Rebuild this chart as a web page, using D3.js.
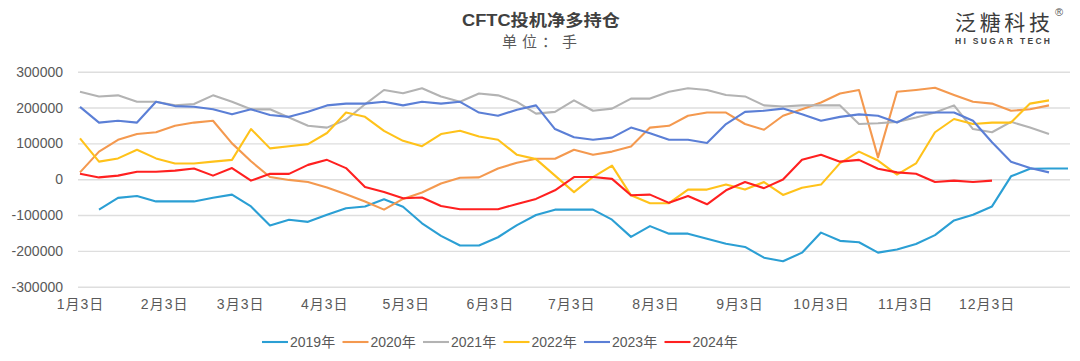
<!DOCTYPE html>
<html>
<head>
<meta charset="utf-8">
<script src="https://cdn.jsdelivr.net/npm/d3@7"></script>
<style>
  html, body { margin: 0; padding: 0; background: #ffffff; }
  svg { display: block; }
  text { font-family: "Liberation Sans", "Noto Sans CJK SC", sans-serif; }
</style>
</head>
<body>
<div id="chart"></div>
<script>
// ---------------- data ----------------
const titleText = "CFTC投机净多持仓";
const subtitleText = "单位：手";
const seriesNames = ["2019年", "2020年", "2021年", "2022年", "2023年", "2024年"];
const seriesColors = ["#2b9fd4", "#f4994f", "#b3b3b3", "#ffc21a", "#5b7fd6", "#ff2020"];
const firstWeek = "2019-01-03"; // shared calendar (weekly points)
const yTicks = [-300000, -200000, -100000, 0, 100000, 200000, 300000];
const xTickDates = ["2019-01-03", "2019-02-03", "2019-03-03", "2019-04-03", "2019-05-03", "2019-06-03",
                    "2019-07-03", "2019-08-03", "2019-09-03", "2019-10-03", "2019-11-03", "2019-12-03"];
const xTickLabels = ["1月3日", "2月3日", "3月3日", "4月3日", "5月3日", "6月3日",
                     "7月3日", "8月3日", "9月3日", "10月3日", "11月3日", "12月3日"];

const y2019 = [null, -85000, -52000, -47000, -62000, -62000, -62000, -52000, -43000, -76000,
  -129000, -113000, -119000, -99000, -81000, -76000, -56000, -77000, -123000, -158000,
  -185000, -185000, -162000, -128000, -100000, -85000, -85000, -85000, -113000, -161000,
  -131000, -152000, -152000, -166000, -180000, -189000, -219000, -229000, -205000, -149000,
  -172000, -176000, -205000, -196000, -181000, -156000, -115000, -99000, -76000, 8000,
  29000, 30000, 30000];
const y2020 = [19000, 77000, 110000, 126000, 131000, 149000, 158000, 163000, 100000, 50000,
  6000, -2000, -8000, -23000, -42000, -62000, -85000, -55000, -37000, -12000,
  4000, 5000, 30000, 46000, 57000, 57000, 82000, 68000, 77000, 91000,
  144000, 149000, 177000, 186000, 186000, 154000, 138000, 177000, 195000, 214000,
  239000, 249000, 61000, 244000, 249000, 255000, 235000, 216000, 211000, 191000,
  195000, 206000];
const y2021 = [244000, 231000, 234000, 216000, 216000, 206000, 210000, 234000, 216000, 195000,
  195000, 172000, 149000, 144000, 166000, 209000, 249000, 240000, 254000, 231000,
  216000, 239000, 234000, 216000, 183000, 188000, 220000, 191000, 197000, 225000,
  225000, 244000, 254000, 249000, 235000, 231000, 206000, 203000, 206000, 206000,
  206000, 154000, 156000, 160000, 172000, 186000, 206000, 140000, 131000, 160000,
  144000, 126000];
const y2022 = [114000, 49000, 58000, 82000, 58000, 44000, 44000, 49000, 54000, 140000,
  86000, 92000, 98000, 129000, 186000, 174000, 135000, 107000, 92000, 126000,
  135000, 119000, 110000, 68000, 56000, 10000, -36000, 6000, 38000, -45000,
  -67000, -67000, -29000, -29000, -15000, -29000, -8000, -44000, -24000, -15000,
  45000, 77000, 52000, 13000, 44000, 131000, 168000, 154000, 158000, 158000,
  211000, 220000];
const y2023 = [202000, 158000, 163000, 158000, 216000, 204000, 202000, 195000, 181000, 195000,
  179000, 174000, 188000, 206000, 211000, 211000, 216000, 206000, 216000, 211000,
  216000, 186000, 177000, 194000, 206000, 140000, 117000, 110000, 116000, 144000,
  128000, 110000, 110000, 101000, 154000, 188000, 191000, 197000, 181000, 163000,
  174000, 181000, 177000, 158000, 186000, 186000, 186000, 163000, 103000, 49000,
  31000, 19000];
const y2024 = [15000, 5000, 10000, 21000, 21000, 24000, 30000, 10000, 31000, -4000,
  15000, 15000, 40000, 54000, 31000, -22000, -36000, -53000, -51000, -75000,
  -84000, -84000, -84000, -69000, -55000, -31000, 6000, 6000, 1000, -45000,
  -43000, -66000, -47000, -70000, -31000, -8000, -25000, -1000, 54000, 68000,
  49000, 54000, 29000, 19000, 15000, -8000, -4000, -8000, -4000];
const seriesValues = [y2019, y2020, y2021, y2022, y2023, y2024];

// ---------------- layout ----------------
const W = 1080, H = 361;
const plotLeft = 80, plotRight = 1068, gridLeft = 78, gridRight = 1070;
const plotTop = 71.7, plotBottom = 286.7;
const axisColor = "#595959";

const svg = d3.select("#chart").append("svg")
  .attr("width", W).attr("height", H).attr("viewBox", `0 0 ${W} ${H}`);

const parse = d3.utcParse("%Y-%m-%d");
const start = parse(firstWeek);
const end = d3.utcDay.offset(start, 364);

const x = d3.scaleUtc().domain([start, end]).range([plotLeft, plotRight]);
const y = d3.scaleLinear().domain([-300000, 300000]).range([plotBottom, plotTop]);

// y axis with gridlines
const yAxis = svg.append("g")
  .attr("transform", `translate(${gridLeft},0)`)
  .call(d3.axisLeft(y).tickValues(yTicks).tickSize(-(gridRight - gridLeft)).tickPadding(15)
    .tickFormat(d => String(d)));
yAxis.select(".domain").remove();
yAxis.selectAll(".tick line").attr("stroke", "#dedede").attr("stroke-width", 1.4);
yAxis.selectAll(".tick text").attr("fill", axisColor).attr("font-size", 14);

// x axis
const tickDates = xTickDates.map(parse);
const xAxis = svg.append("g")
  .attr("transform", `translate(0,${plotBottom})`)
  .call(d3.axisBottom(x).tickValues(tickDates).tickSize(0).tickPadding(12)
    .tickFormat((d, i) => xTickLabels[i]));
xAxis.select(".domain").remove();
xAxis.selectAll(".tick text").attr("fill", axisColor).attr("font-size", 14)
  .attr("letter-spacing", "1px");

// lines
const line = d3.line()
  .defined(d => d.v !== null && d.v !== undefined)
  .x(d => x(d.date))
  .y(d => y(d.v));

seriesValues.forEach((vals, si) => {
  const pts = vals.map((v, i) => ({ date: d3.utcDay.offset(start, 7 * i), v }));
  svg.append("path")
    .datum(pts)
    .attr("fill", "none")
    .attr("stroke", seriesColors[si])
    .attr("stroke-width", 2.1)
    .attr("stroke-linejoin", "round")
    .attr("d", line);
});

// title
svg.append("text")
  .attr("x", 462).attr("y", 26)
  .attr("textLength", 158).attr("lengthAdjust", "spacingAndGlyphs")
  .attr("font-size", 16).attr("font-weight", "bold").attr("fill", "#404040")
  .attr("font-family", "'Noto Sans CJK SC', sans-serif")
  .text(titleText);
svg.append("text")
  .attr("x", 502).attr("y", 47)
  .attr("textLength", 75).attr("lengthAdjust", "spacing")
  .attr("font-size", 15).attr("fill", "#595959")
  .attr("font-family", "'Noto Sans CJK SC', sans-serif")
  .text(subtitleText);

// logo
svg.append("text")
  .attr("x", 955).attr("y", 30)
  .attr("textLength", 95).attr("lengthAdjust", "spacing")
  .attr("font-size", 21).attr("fill", "#3c3c3c")
  .attr("font-family", "'Noto Sans CJK SC', sans-serif")
  .text("泛糖科技");
svg.append("text")
  .attr("x", 1055).attr("y", 16)
  .attr("font-size", 11).attr("fill", "#555")
  .text("®");
svg.append("text")
  .attr("x", 955).attr("y", 44)
  .attr("textLength", 95).attr("lengthAdjust", "spacing")
  .attr("font-size", 8.5).attr("font-weight", "bold").attr("fill", "#444")
  .text("HI SUGAR TECH");

// legend
const legendX0 = 262, legendStep = 80.5, legendY = 342;
const leg = svg.append("g");
seriesNames.forEach((name, i) => {
  const gx = legendX0 + i * legendStep;
  leg.append("line")
    .attr("x1", gx).attr("x2", gx + 26)
    .attr("y1", legendY).attr("y2", legendY)
    .attr("stroke", seriesColors[i]).attr("stroke-width", 2.1);
  leg.append("text")
    .attr("x", gx + 28).attr("y", legendY)
    .attr("dy", "0.35em")
    .attr("font-size", 14).attr("fill", axisColor)
    .text(name);
});
</script>
</body>
</html>
